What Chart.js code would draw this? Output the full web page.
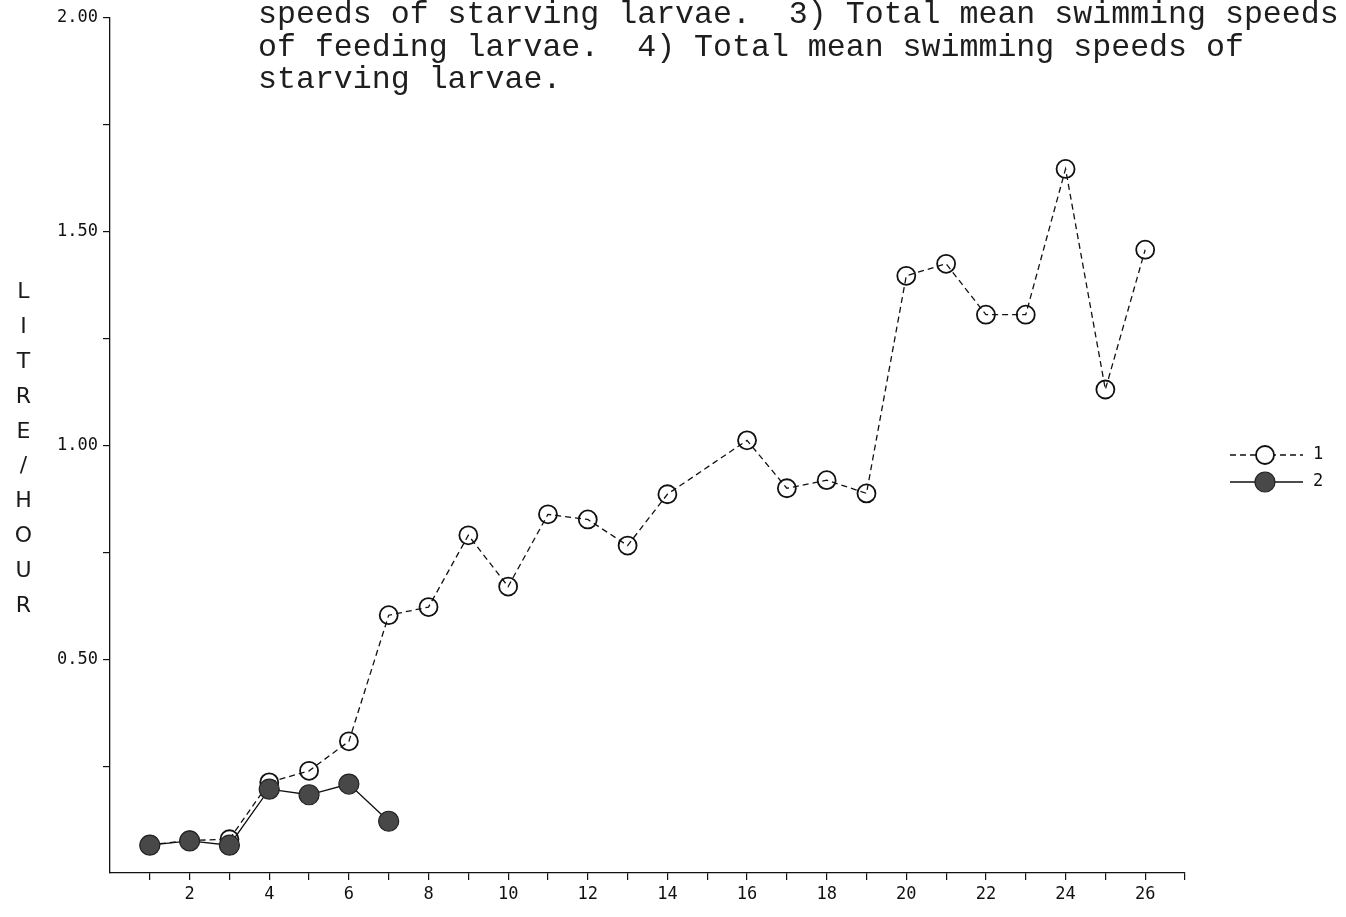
<!DOCTYPE html>
<html>
<head>
<meta charset="utf-8">
<title>Swimming speeds of larvae</title>
<script src="https://cdn.jsdelivr.net/npm/chart.js@4.4.1/dist/chart.umd.min.js"></script>
<style>
  html, body { margin: 0; padding: 0; background: #fff; }
  #wrap { position: relative; width: 1346px; height: 917px; overflow: hidden; }
  #plot { position: absolute; left: 0; top: 0; }
  #caption {
    position: absolute; left: 258px; top: -1px;
    font-family: "Liberation Mono", "DejaVu Sans Mono", monospace;
    font-size: 31.6px; line-height: 32.5px; color: #1e1e1e;
    white-space: pre; margin: 0;
  }
  #yname {
    position: absolute; left: 11px; top: 278px;
    font-family: "DejaVu Sans", sans-serif; font-size: 22px; color: #1a1a1a;
    writing-mode: vertical-lr; text-orientation: upright; letter-spacing: 9.9px;
  }
</style>
</head>
<body>
<div id="wrap">
  <canvas id="plot" width="1346" height="917"></canvas>
  <div id="caption">speeds of starving larvae.  3) Total mean swimming speeds
of feeding larvae.  4) Total mean swimming speeds of
starving larvae.</div>
  <div id="yname">LITRE/HOUR</div>
</div>
<script>
// Series 1: feeding larvae (open circles, dashed line)
const feedingDays = [1, 2, 3, 4, 5, 6, 7, 8, 9, 10, 11, 12, 13, 14, 16, 17, 18, 19, 20, 21, 22, 23, 24, 25, 26];
const feedingValues = [0.066, 0.076, 0.079, 0.212, 0.239, 0.308, 0.603, 0.622, 0.790, 0.670, 0.839, 0.827, 0.766,
                       0.886, 1.012, 0.900, 0.919, 0.888, 1.397, 1.425, 1.306, 1.306, 1.647, 1.131, 1.458];

// Series 2: starving larvae (filled circles, solid line)
const starvingDays = [1, 2, 3, 4, 5, 6, 7];
const starvingValues = [0.065, 0.075, 0.065, 0.196, 0.183, 0.208, 0.121];

// Axis ticks
const xLabelled = [2, 4, 6, 8, 10, 12, 14, 16, 18, 20, 22, 24, 26];
const yLabelled = [0.5, 1.0, 1.5, 2.0];
const seriesNames = ['1', '2'];

const toPoints = (xs, ys) => xs.map((x, i) => ({ x: x, y: ys[i] }));

// Key at the right: line, marker, then the series number
const seriesKey = {
  id: 'seriesKey',
  afterDraw(chart) {
    const ctx = chart.ctx;
    const rows = [455, 482];
    chart.data.datasets.forEach((ds, i) => {
      const y = rows[i];
      ctx.save();
      ctx.strokeStyle = ds.borderColor;
      ctx.lineWidth = ds.borderWidth;
      ctx.setLineDash(ds.borderDash || []);
      ctx.beginPath();
      ctx.moveTo(1230, y);
      ctx.lineTo(1303, y);
      ctx.stroke();
      ctx.setLineDash([]);
      ctx.beginPath();
      ctx.arc(1265, y, ds.pointRadius, 0, Math.PI * 2);
      ctx.fillStyle = ds.keyFill;
      ctx.fill();
      ctx.lineWidth = ds.pointBorderWidth;
      ctx.strokeStyle = ds.pointBorderColor;
      ctx.stroke();
      ctx.fillStyle = '#111';
      ctx.font = '17px "DejaVu Sans Mono", monospace';
      ctx.textBaseline = 'middle';
      ctx.textAlign = 'left';
      ctx.fillText(seriesNames[i], 1313, y);
      ctx.restore();
    });
  }
};

new Chart(document.getElementById('plot'), {
  type: 'line',
  data: {
    datasets: [
      {
        label: seriesNames[0],
        data: toPoints(feedingDays, feedingValues),
        borderColor: '#111',
        borderWidth: 1.3,
        borderDash: [6, 4],
        pointRadius: 9,
        pointBorderWidth: 1.8,
        pointBorderColor: '#111',
        pointBackgroundColor: 'rgba(255,255,255,0)',
        keyFill: '#fff',
        tension: 0,
        order: 1
      },
      {
        label: seriesNames[1],
        data: toPoints(starvingDays, starvingValues),
        borderColor: '#111',
        borderWidth: 1.3,
        pointRadius: 10,
        pointBorderWidth: 1.2,
        pointBorderColor: '#222',
        pointBackgroundColor: '#484848',
        keyFill: '#484848',
        tension: 0,
        order: 0
      }
    ]
  },
  options: {
    responsive: false,
    devicePixelRatio: 1,
    animation: false,
    layout: { padding: { top: 18, right: 161, left: 0, bottom: 0 } },
    plugins: { legend: { display: false }, tooltip: { enabled: false }, title: { display: false } },
    scales: {
      x: {
        type: 'linear',
        min: 0, max: 27,
        afterFit: s => { s.height = 44; },
        border: { display: true, color: '#111', width: 1.3 },
        grid: {
          drawOnChartArea: false, drawTicks: true, tickLength: 7, lineWidth: 1.2,
          color: c => (c.tick && c.tick.value === 0) ? 'rgba(0,0,0,0)' : '#111'
        },
        ticks: {
          stepSize: 1, autoSkip: false, maxRotation: 0, padding: 4, color: '#111',
          font: { family: '"DejaVu Sans Mono", monospace', size: 17 },
          callback: v => xLabelled.includes(v) ? String(v) : ''
        }
      },
      y: {
        min: 0, max: 2,
        afterFit: s => { s.width = 110; },
        border: { display: true, color: '#111', width: 1.3 },
        grid: {
          drawOnChartArea: false, drawTicks: true, tickLength: 7, lineWidth: 1.2,
          color: c => (c.tick && c.tick.value === 0) ? 'rgba(0,0,0,0)' : '#111'
        },
        ticks: {
          stepSize: 0.25, padding: 5, color: '#111',
          font: { family: '"DejaVu Sans Mono", monospace', size: 17 },
          callback: v => yLabelled.some(t => Math.abs(t - v) < 1e-9) ? v.toFixed(2) : ''
        }
      }
    }
  },
  plugins: [seriesKey]
});
</script>
</body>
</html>
